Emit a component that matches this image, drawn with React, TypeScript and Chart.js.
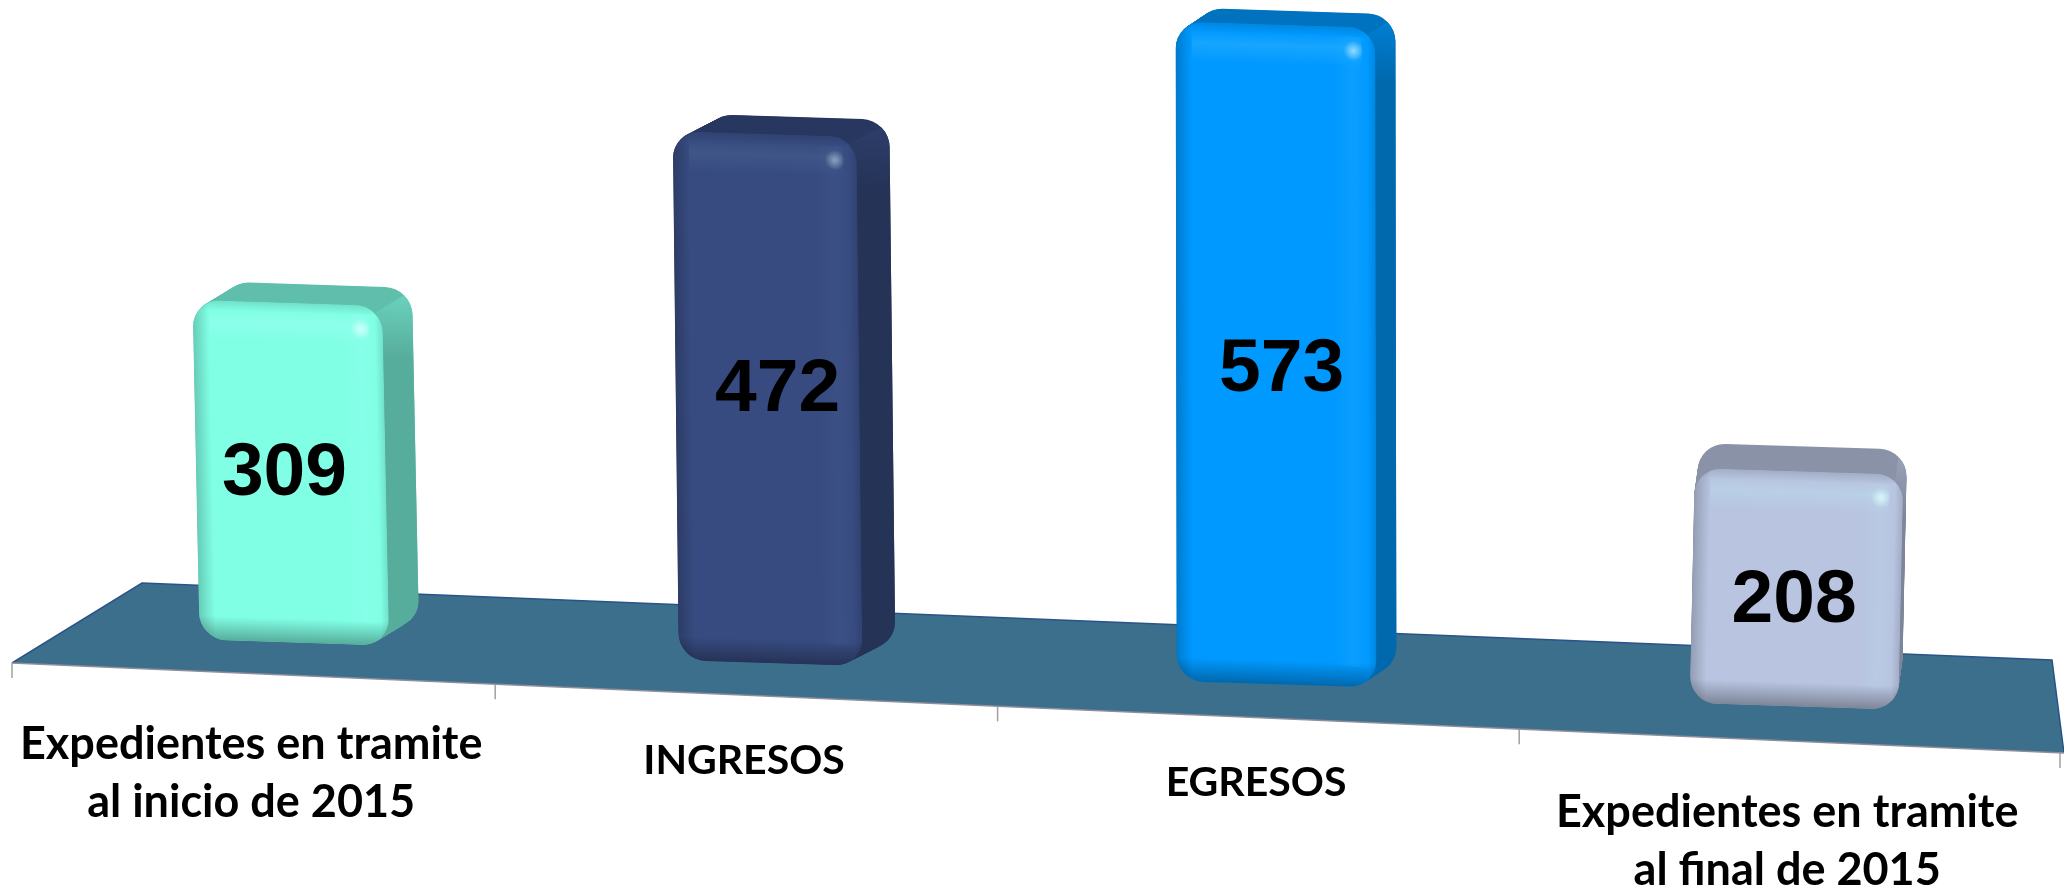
import React, { useEffect, useRef } from "react";
import { Chart, registerables } from "chart.js";

Chart.register(...registerables);

const categories = [
  ["Expedientes en tramite", "al inicio de 2015"],
  ["INGRESOS"],
  ["EGRESOS"],
  ["Expedientes en tramite", "al final de 2015"],
];
const values = [309, 472, 573, 208];
const frontColors = ["#80FFE5", "#374B80", "#0099FF", "#B8C4E0"];

// Perspective floor (front-left, front-right, back-left, back-right)
const FL = [12, 663], FR = [2060, 753], BL = [142, 583], BR = [2052, 660];
const BAR_DEPTH = 0.38;
const H_CURVE = 0.075;
// Small per-category perspective corrections of the projection
const fit = [
  { dx: 0, w: 0.95, h: 0.973, lean: -7, sx: 30, sy: -19, tx: -10, ty: -1, ly: 71, glow: 1, fs: 45 },
  { dx: -4, w: 0.92, h: 0.992, lean: -6, sx: 33, sy: -18, tx: 7, ty: -11, ly: 66, glow: 0.3, fs: 41 },
  { dx: 3, w: 1.0, h: 1.019, lean: -1, sx: 20, sy: -14, tx: 5, ty: 13, ly: 65, glow: 0.6, fs: 41 },
  { dx: 3, w: 1.045, h: 1.0, lean: 5, sx: 3, sy: -25, tx: 0, ty: 10, ly: 71, glow: 1, fs: 45 },
];

function warp(x: number, area: { left: number; right: number }) {
  const u = (x - area.left) / (area.right - area.left);
  return u - H_CURVE * u * (1 - u);
}
function project(x: number, d: number, area: { left: number; right: number }) {
  const u = warp(x, area);
  const fx = FL[0] + (FR[0] - FL[0]) * u, fy = FL[1] + (FR[1] - FL[1]) * u;
  const bx = BL[0] + (BR[0] - BL[0]) * u, by = BL[1] + (BR[1] - BL[1]) * u;
  return [fx + (bx - fx) * d, fy + (by - fy) * d];
}
function shade(hex: string, f: number) {
  const n = parseInt(hex.slice(1), 16);
  const c = [(n >> 16) & 255, (n >> 8) & 255, n & 255].map((v) => Math.round(v * f));
  return `rgb(${c[0]},${c[1]},${c[2]})`;
}
function lin(ctx: CanvasRenderingContext2D, x0: number, y0: number, x1: number, y1: number, stops: [number, string][]) {
  const g = ctx.createLinearGradient(x0, y0, x1, y1);
  stops.forEach(([o, c]) => g.addColorStop(o, c));
  return g;
}

function drawBar(ctx: CanvasRenderingContext2D, el: any, i: number, area: any, color: string) {
  const f = fit[i];
  const [bx, by] = project(el.x, BAR_DEPTH, area);
  const W = el.width * f.w;
  const H = (el.base - el.y) * f.h;
  const slope = 0.032;
  const r = 27;
  const cx = bx + f.dx;
  ctx.save();
  ctx.translate(cx - W / 2 + f.lean, by - H - (slope * W) / 2);
  ctx.transform(1, slope, -f.lean / H, 1, 0, 0);

  const top = shade(color, 0.75);
  const steps = Math.ceil(Math.hypot(f.sx, f.sy));
  const sweep = () => {
    for (let s = steps; s >= 0; s--) {
      const t = s / steps;
      ctx.beginPath();
      ctx.roundRect(f.sx * t, f.sy * t, W, H, r);
      ctx.fill();
    }
  };
  ctx.fillStyle = top;
  sweep();
  // side face
  ctx.save();
  const p = W - r * 0.3, q = r * 0.3;
  ctx.beginPath();
  ctx.moveTo(p, q);
  ctx.lineTo(p + f.sx * 2, q + f.sy * 2);
  ctx.lineTo(W + f.sx + 60, f.sy - 60);
  ctx.lineTo(W + f.sx + 60, H + 60);
  ctx.lineTo(p, H + 60);
  ctx.closePath();
  ctx.clip();
  ctx.fillStyle = lin(ctx, 0, f.sy, 0, f.sy + 70, [
    [0, shade(color, 0.84)],
    [1, shade(color, 0.68)],
  ]);
  sweep();
  ctx.restore();

  // front face
  const g = f.glow;
  ctx.save();
  ctx.beginPath();
  ctx.roundRect(0, 0, W, H, r);
  ctx.clip();
  ctx.fillStyle = color;
  ctx.fillRect(0, 0, W, H);
  ctx.fillStyle = lin(ctx, 0, 0, 16, 0, [[0, "rgba(0,0,0,0.20)"], [1, "rgba(0,0,0,0)"]]);
  ctx.fillRect(0, 0, 16, H);
  ctx.fillStyle = lin(ctx, 0, H - 24, 0, H, [[0, "rgba(0,0,0,0)"], [1, "rgba(0,0,0,0.32)"]]);
  ctx.fillRect(0, H - 24, W, 24);
  ctx.fillStyle = lin(ctx, 0, 0, 0, 10, [[0, "rgba(0,0,0,0.12)"], [1, "rgba(0,0,0,0)"]]);
  ctx.fillRect(0, 0, W, 10);
  ctx.fillStyle = lin(ctx, 0, 8, 0, 40, [
    [0, "rgba(190,255,255,0)"],
    [0.4, `rgba(190,255,255,${0.2 * g})`],
    [1, "rgba(190,255,255,0)"],
  ]);
  ctx.fillRect(16, 8, W - 30, 32);
  ctx.fillStyle = lin(ctx, W - 42, 0, W - 6, 0, [
    [0, "rgba(190,255,255,0)"],
    [0.55, `rgba(190,255,255,${0.09 * g})`],
    [1, "rgba(190,255,255,0)"],
  ]);
  ctx.fillRect(W - 42, 10, 36, H - 30);
  ctx.fillStyle = lin(ctx, W - 8, 0, W, 0, [[0, "rgba(0,0,0,0)"], [1, "rgba(0,0,0,0.12)"]]);
  ctx.fillRect(W - 8, 0, 8, H);
  const spot = ctx.createRadialGradient(W - 22, 24, 0, W - 22, 24, 10);
  spot.addColorStop(0, `rgba(225,255,255,${0.3 + 0.5 * g})`);
  spot.addColorStop(1, "rgba(225,255,255,0)");
  ctx.fillStyle = spot;
  ctx.fillRect(W - 36, 10, 28, 28);
  ctx.restore();
  ctx.restore();
}

const scene3d = {
  id: "scene3d",
  beforeDatasetsDraw(chart: any) {
    const { ctx, chartArea: a, scales } = chart;
    // floor
    ctx.save();
    ctx.beginPath();
    ctx.moveTo(FL[0], FL[1]);
    ctx.lineTo(BL[0], BL[1]);
    ctx.lineTo(BR[0], BR[1]);
    ctx.lineTo(2064, FR[1]);
    ctx.closePath();
    ctx.fillStyle = "#3B6F8C";
    ctx.fill();
    ctx.strokeStyle = "#2A5488";
    ctx.lineWidth = 1.5;
    ctx.beginPath();
    ctx.moveTo(FL[0], FL[1]);
    ctx.lineTo(BL[0], BL[1]);
    ctx.lineTo(BR[0], BR[1]);
    ctx.lineTo(2064, FR[1]);
    ctx.stroke();
    ctx.strokeStyle = "#8E8E9C";
    ctx.beginPath();
    ctx.moveTo(FL[0], FL[1]);
    ctx.lineTo(FR[0] + 4, FR[1]);
    ctx.stroke();
    // tick marks on the category boundaries
    ctx.strokeStyle = "#A0A0A0";
    ctx.lineWidth = 1.5;
    for (let i = 0; i <= categories.length; i++) {
      const [x, y] = project(scales.x.getPixelForValue(i - 0.5), 0, a);
      ctx.beginPath();
      ctx.moveTo(x, y);
      ctx.lineTo(x, y + 15);
      ctx.stroke();
    }
    ctx.restore();
  },
  beforeDatasetDraw(chart: any, args: any) {
    const meta = chart.getDatasetMeta(args.index);
    const colors = chart.data.datasets[args.index].backgroundColor;
    meta.data.forEach((el: any, i: number) => drawBar(chart.ctx, el, i, chart.chartArea, colors[i]));
    return false;
  },
  afterDatasetsDraw(chart: any) {
    const { ctx, chartArea: a, scales } = chart;
    const meta = chart.getDatasetMeta(0);
    ctx.save();
    ctx.fillStyle = "#000";
    ctx.textAlign = "center";
    ctx.textBaseline = "middle";
    meta.data.forEach((el: any, i: number) => {
      const f = fit[i];
      const [bx, by] = project(el.x, BAR_DEPTH, a);
      const H = (el.base - el.y) * f.h;
      ctx.font = 'bold 75px "Liberation Sans", Arial, sans-serif';
      ctx.fillText(String(values[i]), bx + f.dx + f.tx, by - H / 2 + f.ty + 3);
      const [lx, ly] = project(scales.x.getPixelForValue(i), 0, a);
      ctx.font = `bold ${f.fs}px Lato, "Open Sans", sans-serif`;
      categories[i].forEach((line, k) => ctx.fillText(line, lx, ly + f.ly + k * 58));
    });
    ctx.restore();
  },
};

export default function App() {
  const ref = useRef<HTMLCanvasElement>(null);
  useEffect(() => {
    const chart = new Chart(ref.current!, {
      type: "bar",
      data: {
        labels: categories,
        datasets: [
          {
            data: values,
            backgroundColor: frontColors,
            barPercentage: 0.39,
            categoryPercentage: 1,
          },
        ],
      },
      options: {
        animation: false,
        responsive: false,
        devicePixelRatio: 1,
        layout: { padding: { left: 12, right: 4, top: 38, bottom: 174 } },
        plugins: { legend: { display: false }, tooltip: { enabled: false } },
        scales: {
          x: { display: false },
          y: { display: false, min: 0, max: 600 },
        },
      },
      plugins: [scene3d],
    } as any);
    return () => chart.destroy();
  }, []);
  return (
    <div style={{ position: "absolute", left: 0, top: 0, width: 2064, height: 890, background: "#fff" }}>
      <canvas ref={ref} width={2064} height={890} style={{ display: "block" }} />
    </div>
  );
}
